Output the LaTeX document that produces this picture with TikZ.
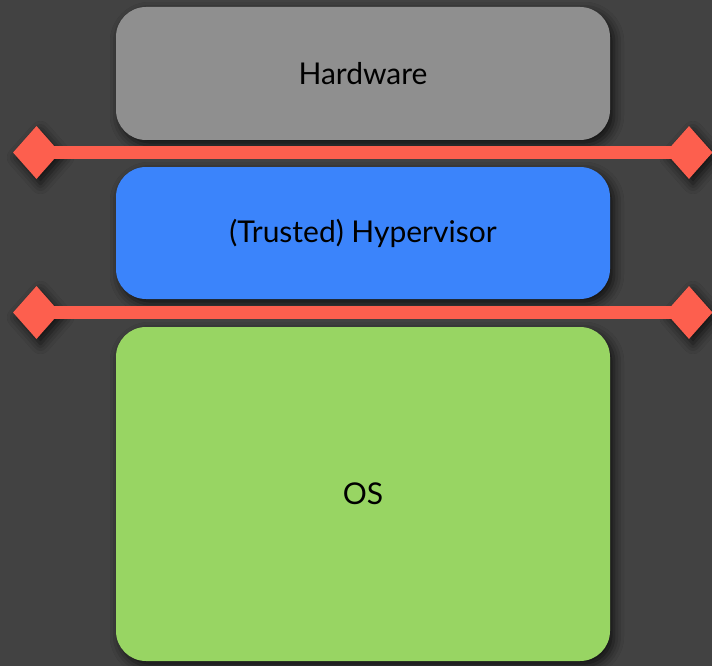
\documentclass[tikz,border=0pt]{standalone}
\usepackage{fontspec}
\setmainfont{Lato}
\usetikzlibrary{shapes.geometric,shadows.blur}

\definecolor{bggray}{HTML}{424242}
\definecolor{hwgray}{HTML}{8F8F8F}
\definecolor{hvblue}{HTML}{3B84FB}
\definecolor{osgreen}{HTML}{98D563}
\definecolor{wallred}{HTML}{FD5F4E}

\pgfdeclarelayer{back}
\pgfsetlayers{back,main}

\tikzset{
  layer/.style={rounded corners=30, minimum width=494, inner sep=0,
    text=black, font=\fontsize{30}{34}\selectfont,
    blur shadow={shadow xshift=4pt, shadow yshift=-5pt,
      shadow blur radius=10pt, shadow opacity=75}},
  tip/.style={diamond, fill=wallred, inner sep=0, minimum width=47,
    minimum height=53,
    blur shadow={shadow xshift=4pt, shadow yshift=-5pt,
      shadow blur radius=10pt, shadow opacity=75}},
  wall/.style={wallred, line width=13},
  wallshade/.style={black, opacity=.35, line width=15, transform canvas={xshift=3pt, yshift=-5pt}}
}

\begin{document}
\begin{tikzpicture}[x=1pt, y=-1pt]
  \fill[bggray] (0,0) rectangle (712,666);
  \useasboundingbox (0,0) rectangle (712,666);

  % stack of layers
  \node[layer, fill=hwgray, minimum height=133] (hw) at (363,73.5) {Hardware};
  \node[layer, fill=hvblue, minimum height=132] (hv) at (363,233) {(Trusted) Hypervisor};
  \node[layer, fill=osgreen, minimum height=334] (os) at (363,494) {OS};

  % isolation walls
  \node[tip] (l1) at (36.5,152.5) {};
  \node[tip] (r1) at (689,152.5) {};
  \node[tip] (l2) at (36.5,312.5) {};
  \node[tip] (r2) at (689,312.5) {};

  \begin{pgfonlayer}{back}
    \draw[wallshade] (l1.center) -- (r1.center);
    \draw[wallshade] (l2.center) -- (r2.center);
  \end{pgfonlayer}

  \draw[wall] (l1.center) -- (r1.center);
  \draw[wall] (l2.center) -- (r2.center);
\end{tikzpicture}
\end{document}
